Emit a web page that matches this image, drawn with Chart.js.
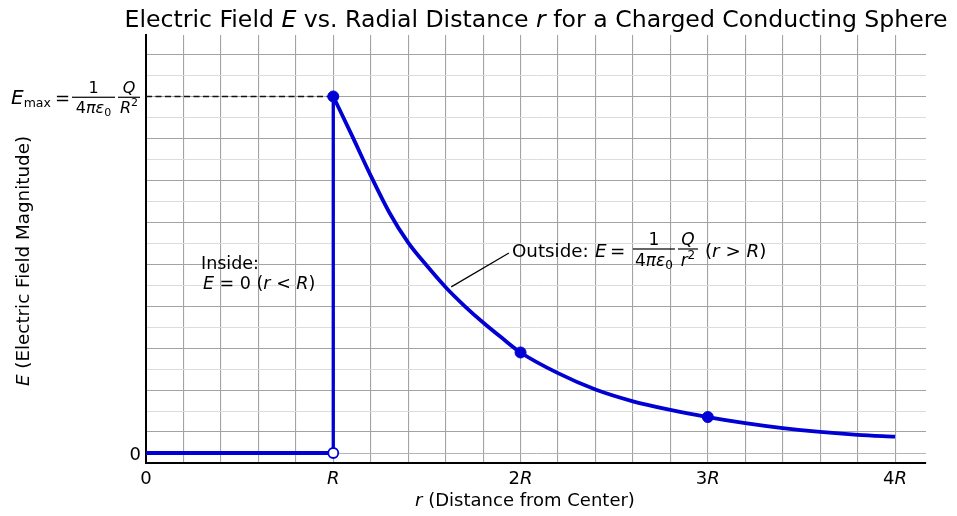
<!DOCTYPE html>
<html>
<head>
<meta charset="utf-8">
<title>Electric Field vs Radial Distance</title>
<script src="https://cdn.jsdelivr.net/npm/chart.js@4.4.1/dist/chart.umd.min.js"></script>
<style>
    html, body { margin: 0; padding: 0; background: #fff; }
    #wrap { width: 957px; height: 516px; position: relative; }
</style>
</head>
<body>
<div id="wrap"><canvas id="efield"></canvas></div>
<script>
// r in units of R, E in units of Emax (= kQ/R^2)
const rInside = [0, 1];
const eInside = [0, 0];
const rJump = [1, 1];
const eJump = [0, 1];
const rOutside = [1.0, 1.1, 1.2, 1.3, 1.4, 1.5, 1.6, 1.7, 1.8, 1.9, 2.0, 2.2, 2.4, 2.6, 2.8, 3.0, 3.2, 3.4, 3.6, 3.8, 4.0];
const eOutside = [1.0, 0.89, 0.778, 0.674, 0.59, 0.525, 0.465, 0.413, 0.366, 0.323, 0.282, 0.224, 0.178, 0.145, 0.121, 0.101, 0.084, 0.070, 0.059, 0.051, 0.046];
const rDots = [1, 2, 3];
const eDots = [1.0, 0.282, 0.101];
const rOpen = [1];
const eOpen = [0];
const rDash = [0, 1];
const eDash = [1, 1];
const xTicks = [0, 1, 2, 3, 4];
const xTickLabels = ['0', 'R', '2R', '3R', '4R'];

const blue = '#0000d4';
const FONT = '"DejaVu Sans", sans-serif';
const toPts = (xs, ys) => xs.map((x, i) => ({ x: x, y: ys[i] }));

// grid: every 0.2R on x, Emax/17 steps on y
const xGrid = Array.from({ length: 21 }, (_, i) => i / 5);
const yGrid = Array.from({ length: 20 }, (_, k) => k / 17);

// --- rich text helpers (mixed italic / sub / sup) ---
const segFont = (s, size) => (s.it ? 'italic ' : '') + (s.size || size) + 'px ' + FONT;
function richWidth(ctx, segs, size) {
    let w = 0;
    segs.forEach(s => { ctx.font = segFont(s, size); w += ctx.measureText(s.t).width; });
    return w;
}
function drawRich(ctx, segs, x, y, size, align) {
    const w = richWidth(ctx, segs, size);
    let cx = align === 'center' ? x - w / 2 : align === 'right' ? x - w : x;
    ctx.textAlign = 'left';
    ctx.textBaseline = 'alphabetic';
    segs.forEach(s => {
        ctx.font = segFont(s, size);
        ctx.fillText(s.t, cx, y + (s.dy || 0));
        cx += ctx.measureText(s.t).width;
    });
    return cx;
}
// fraction with bar from x to x+w at barY
function drawFrac(ctx, x, w, barY, num, den, size) {
    drawRich(ctx, num, x + w / 2, barY - 4, size, 'center');
    drawRich(ctx, den, x + w / 2, barY + size * 0.98, size, 'center');
    ctx.fillRect(x, barY - 0.6, w, 1.2);
}
const fourPiEps = sz => [{ t: '4' }, { t: 'πε', it: true }, { t: '0', size: Math.round(sz * 0.7), dy: 3 }];
const overSq = (v, sz) => [{ t: v, it: true }, { t: '2', size: Math.round(sz * 0.7), dy: -7 }];

const textPlugin = {
    id: 'textPlugin',
    afterDraw(chart) {
        const ctx = chart.ctx;
        const xs = chart.scales.x, ys = chart.scales.y;
        ctx.save();
        ctx.fillStyle = '#000';

        // title
        drawRich(ctx, [
            { t: 'Electric Field ' }, { t: 'E', it: true }, { t: ' vs. Radial Distance ' },
            { t: 'r', it: true }, { t: ' for a Charged Conducting Sphere' }
        ], 536, 27, 23.6, 'center');

        // x tick labels
        xTicks.forEach((v, i) => {
            const lab = xTickLabels[i];
            const segs = lab === '0' ? [{ t: '0' }] :
                (lab.length > 1 ? [{ t: lab[0] }, { t: 'R', it: true }] : [{ t: 'R', it: true }]);
            drawRich(ctx, segs, xs.getPixelForValue(v), 484, 18, 'center');
        });

        // y tick labels
        drawRich(ctx, [{ t: '0' }], 141, ys.getPixelForValue(0) + 6.5, 18, 'right');
        const yM = ys.getPixelForValue(1);
        let cx = drawRich(ctx, [{ t: 'E', it: true }], 11, yM + 8, 20, 'left');
        drawRich(ctx, [{ t: 'max' }], cx, yM + 11, 12.5, 'left');
        drawRich(ctx, [{ t: '=' }], 55, yM + 8, 18, 'left');
        drawFrac(ctx, 72, 43, yM + 0.8, [{ t: '1' }], fourPiEps(16), 16);
        drawFrac(ctx, 118, 22, yM + 0.8, [{ t: 'Q', it: true }], overSq('R', 16), 16);

        // axis titles
        drawRich(ctx, [{ t: 'r', it: true }, { t: ' (Distance from Center)' }], 525, 506, 18, 'center');
        ctx.save();
        ctx.translate(29, 261);
        ctx.rotate(-Math.PI / 2);
        drawRich(ctx, [{ t: 'E', it: true }, { t: ' (Electric Field Magnitude)' }], 0, 0, 18.3, 'center');
        ctx.restore();

        // inside annotation
        drawRich(ctx, [{ t: 'Inside:' }], 201, 269, 17.5, 'left');
        drawRich(ctx, [{ t: 'E', it: true }, { t: ' = 0 (' }, { t: 'r', it: true }, { t: ' < ' },
            { t: 'R', it: true }, { t: ')' }], 203, 289, 17.5, 'left');

        // outside annotation with connector
        const ax = xs.getPixelForValue(1.63), ay = ys.getPixelForValue(0.466);
        const tx = xs.getPixelForValue(1.938), ty = ys.getPixelForValue(0.561);
        ctx.strokeStyle = '#000';
        ctx.lineWidth = 1.2;
        ctx.beginPath();
        ctx.moveTo(ax, ay);
        ctx.lineTo(tx, ty);
        ctx.stroke();
        const base = ty + 4;
        drawRich(ctx, [{ t: 'Outside:' }], tx + 3, base, 18.3, 'left');
        drawRich(ctx, [{ t: 'E', it: true }], tx + 86, base, 18.3, 'left');
        drawRich(ctx, [{ t: '=' }], tx + 101, base, 18.3, 'left');
        drawFrac(ctx, tx + 124, 42, base - 8, [{ t: '1' }], fourPiEps(17), 17);
        drawFrac(ctx, tx + 169, 20, base - 8, [{ t: 'Q', it: true }], overSq('r', 17), 17);
        drawRich(ctx, [{ t: '(' }, { t: 'r', it: true }, { t: ' > ' }, { t: 'R', it: true }, { t: ')' }],
            tx + 196, base, 18.3, 'left');
        ctx.restore();
    }
};

new Chart(document.getElementById('efield'), {
    type: 'scatter',
    data: {
        datasets: [
            {
                // filled markers
                data: toPts(rDots, eDots), order: 0,
                pointRadius: 5.5, pointBackgroundColor: blue, pointBorderColor: blue, showLine: false
            },
            {
                // open marker at r = R, E = 0
                data: toPts(rOpen, eOpen), order: 0,
                pointRadius: 5, pointBackgroundColor: '#fff', pointBorderColor: blue, pointBorderWidth: 1.8, showLine: false
            },
            {
                data: toPts(rOutside, eOutside), order: 1, showLine: true,
                borderColor: blue, borderWidth: 3.8, pointRadius: 0, cubicInterpolationMode: 'monotone'
            },
            {
                data: toPts(rInside, eInside), order: 1, showLine: true,
                borderColor: blue, borderWidth: 3.8, pointRadius: 0
            },
            {
                data: toPts(rJump, eJump), order: 1, showLine: true,
                borderColor: blue, borderWidth: 3.3, pointRadius: 0
            },
            {
                data: toPts(rDash, eDash), order: 2, showLine: true,
                borderColor: '#111', borderWidth: 1.5, borderDash: [6, 3.5], pointRadius: 0
            }
        ]
    },
    options: {
        responsive: true,
        maintainAspectRatio: false,
        animation: false,
        layout: { padding: { left: 0, right: 31, top: 35, bottom: 0 } },
        plugins: { legend: { display: false }, tooltip: { enabled: false } },
        scales: {
            x: {
                type: 'linear', min: 0, max: 4.165,
                afterBuildTicks: s => { s.ticks = xGrid.map(v => ({ value: v })); },
                afterFit: s => { s.height = 53; },
                ticks: { display: false },
                grid: { color: '#a3a3a3', lineWidth: 1.1, drawTicks: false },
                border: { display: true, color: '#000', width: 2 }
            },
            y: {
                type: 'linear', min: -0.028, max: 1.1724,
                afterBuildTicks: s => { s.ticks = yGrid.map(v => ({ value: v })); },
                afterFit: s => { s.width = 146; },
                ticks: { display: false },
                grid: {
                    color: c => c.index === 0 ? '#b5b5b5' : (c.index % 2 ? '#a3a3a3' : '#dcdcdc'),
                    lineWidth: c => c.index % 2 ? 1.1 : 1,
                    drawTicks: false
                },
                border: { display: true, color: '#000', width: 2 }
            }
        }
    },
    plugins: [textPlugin]
});
</script>
</body>
</html>
